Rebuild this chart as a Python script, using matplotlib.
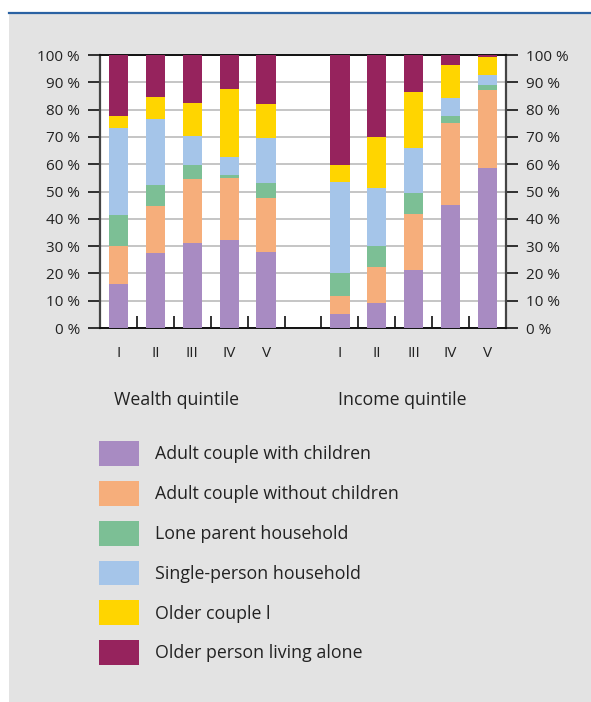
import matplotlib
matplotlib.use("Agg")
import matplotlib.pyplot as plt
import numpy as np
from matplotlib.patches import Rectangle, Patch
from matplotlib.lines import Line2D

plt.rcParams['font.family'] = ['Open Sans', 'DejaVu Sans']

quintiles = ["I", "II", "III", "IV", "V"]
groups = ["Wealth quintile", "Income quintile"]
household_types = [
    "Adult couple with children",
    "Adult couple without children",
    "Lone parent household",
    "Single-person household",
    "Older couple l",
    "Older person living alone",
]
colors = ["#a88bc2", "#f6ae7b", "#7cbf95", "#a5c5e9", "#ffd500", "#96235d"]

# Shares (%) by household type, quintiles I..V
wealth = {
    "Adult couple with children":    [16.0, 27.4, 31.1, 32.2, 27.8],
    "Adult couple without children": [14.0, 17.2, 23.4, 22.8, 19.8],
    "Lone parent household":         [11.3, 7.7, 5.2, 1.0, 5.5],
    "Single-person household":       [32.0, 24.2, 10.6, 6.6, 16.6],
    "Older couple l":                [4.3, 8.1, 12.1, 24.9, 12.3],
    "Older person living alone":     [22.4, 15.4, 17.6, 12.5, 18.0],
}
income = {
    "Adult couple with children":    [5.0, 9.0, 21.1, 45.1, 58.7],
    "Adult couple without children": [6.6, 13.2, 20.7, 30.0, 28.5],
    "Lone parent household":         [8.4, 7.8, 7.6, 2.5, 1.8],
    "Single-person household":       [33.5, 21.3, 16.6, 6.8, 3.7],
    "Older couple l":                [6.2, 18.6, 20.4, 11.9, 6.7],
    "Older person living alone":     [40.3, 30.1, 13.6, 3.7, 0.6],
}

W, H = 591, 702
fig = plt.figure(figsize=(W / 100, H / 100), dpi=100)
fig.patch.set_facecolor("white")

# grey panel and blue rule on top
fig.patches.append(Rectangle((9 / W, 0), 1 - 9 / W, 1 - 14 / H, transform=fig.transFigure,
                             facecolor="#e3e3e3", edgecolor="none", zorder=-10))
fig.lines.append(Line2D([9 / W, 1], [1 - 12.5 / H, 1 - 12.5 / H], transform=fig.transFigure,
                        color="#2a62a3", lw=1.6, zorder=-5))

ax_l, ax_r, ax_b, ax_t = 100, 506, 328, 55
ax = fig.add_axes([ax_l / W, 1 - ax_b / H, (ax_r - ax_l) / W, (ax_b - ax_t) / H])
ax.set_facecolor("white")

x_w = np.arange(5)
x_i = np.arange(5) + 6
width = 0.52
for data, xs in ((wealth, x_w), (income, x_i)):
    bottom = np.zeros(5)
    for name, c in zip(household_types, colors):
        vals = np.array(data[name])
        ax.bar(xs, vals, width, bottom=bottom, color=c, zorder=3, linewidth=0)
        bottom += vals

ax.set_xlim(-0.5, 10.5)
ax.set_ylim(0, 100)
ax.set_yticks(np.arange(0, 101, 10))
ax.set_yticklabels([f"{v} %" for v in range(0, 101, 10)])
ax.yaxis.grid(True, color="#c0c0c0", lw=1.3, zorder=1)
ax.tick_params(axis="y", which="major", direction="out", length=8.5, width=1.3,
               color="#222222", labelsize=11, labelcolor="#222222", pad=6,
               left=True, right=True, labelleft=True, labelright=True)

# boundary ticks inward, labels at bar centres
ax.set_xticks(np.arange(0.5, 10, 1))
ax.set_xticklabels([])
ax.set_xticks(np.concatenate([x_w, x_i]), minor=True)
ax.set_xticklabels(quintiles + quintiles, minor=True)
ax.tick_params(axis="x", which="major", direction="in", length=8.5, width=1.3, color="#222222")
ax.tick_params(axis="x", which="minor", length=0, labelsize=11, labelcolor="#222222", pad=13)

for side in ("top", "bottom"):
    ax.spines[side].set_color("#111111")
    ax.spines[side].set_linewidth(1.4)
for side in ("left", "right"):
    ax.spines[side].set_color("#444444")
    ax.spines[side].set_linewidth(1.6)

fs_big = 12.8
fig.text(176.5 / W, 1 - 400 / H, groups[0], ha="center", va="center", fontsize=fs_big, color="#222222")
fig.text(402 / W, 1 - 400 / H, groups[1], ha="center", va="center", fontsize=fs_big, color="#222222")

handles = [Patch(facecolor=c, edgecolor="none") for c in colors]
leg = fig.legend(handles, household_types, loc="upper left",
                 bbox_to_anchor=(99 / W, 1 - 441 / H), bbox_transform=fig.transFigure,
                 frameon=False, fontsize=fs_big, handlelength=2.25, handleheight=1.78,
                 handletextpad=0.9, labelspacing=0.84, borderpad=0, borderaxespad=0,
                 labelcolor="#222222")

fig.savefig("out.png", dpi=100)
